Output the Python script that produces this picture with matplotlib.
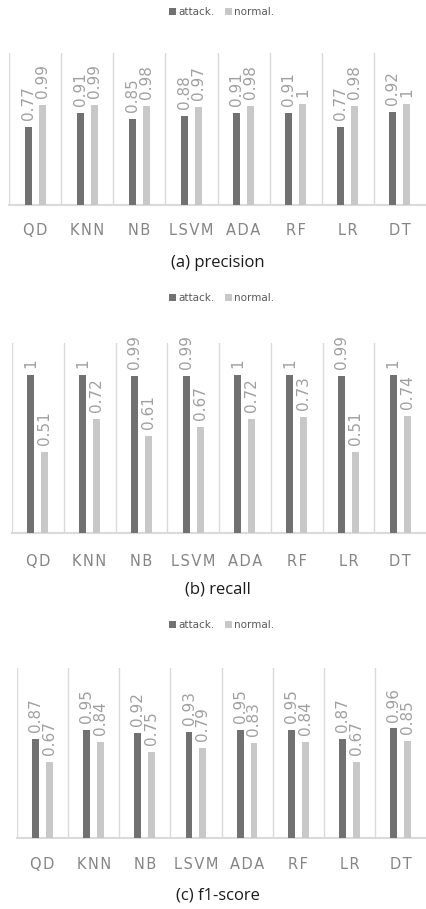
import matplotlib.pyplot as plt
import numpy as np

# classifiers on the x axis
models = ["QD", "KNN", "NB", "LSVM", "ADA", "RF", "LR", "DT"]

precision_attack = [0.77, 0.91, 0.85, 0.88, 0.91, 0.91, 0.77, 0.92]
precision_normal = [0.99, 0.99, 0.98, 0.97, 0.98, 1, 0.98, 1]
recall_attack = [1, 1, 0.99, 0.99, 1, 1, 0.99, 1]
recall_normal = [0.51, 0.72, 0.61, 0.67, 0.72, 0.73, 0.51, 0.74]
f1_attack = [0.87, 0.95, 0.92, 0.93, 0.95, 0.95, 0.87, 0.96]
f1_normal = [0.67, 0.84, 0.75, 0.79, 0.83, 0.84, 0.67, 0.85]

captions = ["(a) precision", "(b) recall", "(c) f1-score"]
series_names = ["attack.", "normal."]

W, H = 426, 909
ATTACK_COLOR = "#717171"
NORMAL_COLOR = "#c8c8c8"
GRID_COLOR = "#dadada"
LABEL_COLOR = "#a0a0a0"
TICK_COLOR = "#858585"

# panel geometry in pixels: left, top, baseline, ymax, legend y, caption y, tick pad (pt)
layout = [
    (9, 53, 205, 1.5, 12, 263, 13),
    (12, 343, 533, 1.2, 298, 589, 15),
    (17, 668, 838, 1.49, 625, 895, 14),
]

fig = plt.figure(figsize=(W / 100, H / 100), dpi=100)


def plot_panel(attack, normal, caption, geom):
    left, top, base, ymax, leg_y, cap_y, tick_pad = geom
    ax = fig.add_axes([left / W, 1 - base / H, (W - left) / W, (base - top) / H])
    x = np.arange(len(models))
    width = 0.135
    offset = 0.135

    b1 = ax.bar(x - offset, attack, width, color=ATTACK_COLOR, label=series_names[0], zorder=3)
    b2 = ax.bar(x + offset, normal, width, color=NORMAL_COLOR, label=series_names[1], zorder=3)

    for bars, vals in ((b1, attack), (b2, normal)):
        for rect, v in zip(bars, vals):
            ax.annotate(f"{v:g}", (rect.get_x() + rect.get_width() / 2, rect.get_height()),
                        xytext=(0, 5), textcoords="offset points", rotation=90,
                        ha="center", va="bottom", fontsize=11, color=LABEL_COLOR)

    # vertical separators between categories
    for b in np.arange(-0.5, len(models) - 1, 1.0):
        ax.axvline(b, color=GRID_COLOR, lw=1.0, zorder=1)

    ax.set_xlim(-0.5, len(models) - 0.5)
    ax.set_ylim(0, ymax)
    ax.set_yticks([])
    for s in ["top", "left", "right"]:
        ax.spines[s].set_visible(False)
    ax.spines["bottom"].set_color(GRID_COLOR)
    ax.spines["bottom"].set_linewidth(1.5)

    # Excel-style letter spacing on the category labels
    ax.set_xticks(x)
    ax.set_xticklabels(["\u200a".join(m) for m in models], fontsize=10.5, color=TICK_COLOR)
    ax.tick_params(axis="x", length=0, pad=tick_pad)

    ax.legend(loc="center", bbox_to_anchor=(0.52, 1 - leg_y / H), bbox_transform=fig.transFigure,
              ncol=2, frameon=False, fontsize=7.5, labelcolor="#595959",
              handlelength=0.7, handleheight=0.7, handletextpad=0.2, columnspacing=1.0)

    fig.text(0.511, 1 - cap_y / H, caption, ha="center", va="center",
             fontsize=12, family="Open Sans", color="#1a1a1a")


plot_panel(precision_attack, precision_normal, captions[0], layout[0])
plot_panel(recall_attack, recall_normal, captions[1], layout[1])
plot_panel(f1_attack, f1_normal, captions[2], layout[2])

fig.savefig("out.png", dpi=100)
